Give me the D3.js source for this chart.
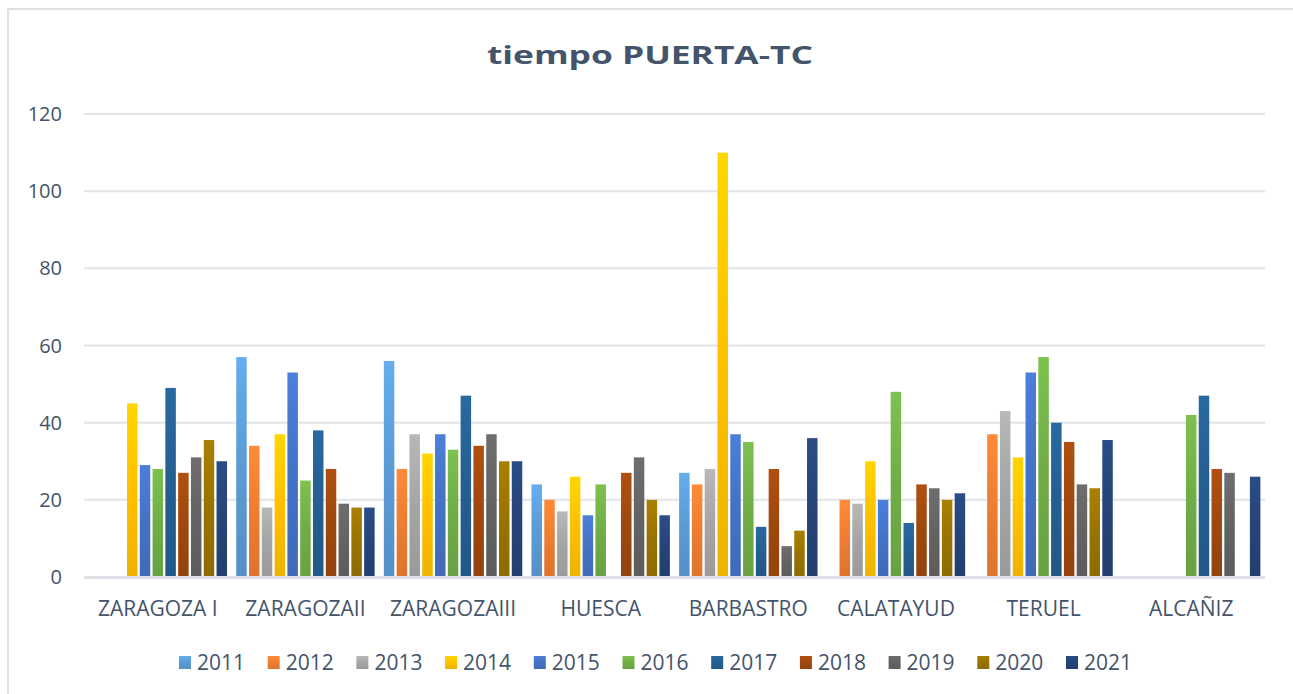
<!DOCTYPE html>
<html>
<head>
<meta charset="utf-8">
<script src="https://cdn.jsdelivr.net/npm/d3@7"></script>
<style>
  html, body { margin: 0; padding: 0; background: #ffffff; }
  svg { display: block; }
</style>
</head>
<body>
<svg id="chart" width="1293" height="694"></svg>
<script>
// ---- data ----
const categories = ["ZARAGOZA I", "ZARAGOZAII", "ZARAGOZAIII", "HUESCA", "BARBASTRO", "CALATAYUD", "TERUEL", "ALCAÑIZ"];
const years = ["2011", "2012", "2013", "2014", "2015", "2016", "2017", "2018", "2019", "2020", "2021"];
const s2011 = [null, 57, 56, 24, 27, null, null, null];
const s2012 = [null, 34, 28, 20, 24, 20, 37, null];
const s2013 = [null, 18, 37, 17, 28, 19, 43, null];
const s2014 = [45, 37, 32, 26, 110, 30, 31, null];
const s2015 = [29, 53, 37, 16, 37, 20, 53, null];
const s2016 = [28, 25, 33, 24, 35, 48, 57, 42];
const s2017 = [49, 38, 47, null, 13, 14, 40, 47];
const s2018 = [27, 28, 34, 27, 28, 24, 35, 28];
const s2019 = [31, 19, 37, 31, 8, 23, 24, 27];
const s2020 = [35.5, 18, 30, 20, 12, 20, 23, null];
const s2021 = [30, 18, 30, 16, 36, 21.7, 35.5, 26];
const yTicks = [0, 20, 40, 60, 80, 100, 120];
const colors = ["#5B9BD5", "#ED7D31", "#A5A5A5", "#FFC000", "#4472C4", "#70AD47", "#255E91", "#9E480E", "#636363", "#997300", "#264478"];
const titleText = "tiempo PUERTA-TC";

(function () {
const seriesValues = [s2011, s2012, s2013, s2014, s2015, s2016, s2017, s2018, s2019, s2020, s2021];
const rows = [];
categories.forEach((c, ci) => {
  years.forEach((yr, yi) => {
    const v = seriesValues[yi][ci];
    if (v != null) rows.push({ cat: c, year: yr, value: v, yi });
  });
});

// ---- layout ----
const svg = d3.select("#chart");
const textColor = "#44546A";
const font = "'Open Sans', 'Noto Sans', sans-serif";
const pLeft = 84, pRight = 1265, pTop = 114, pBottom = 577;

svg.append("rect").attr("width", 1293).attr("height", 694).attr("fill", "#ffffff");
svg.append("rect").attr("x", 8).attr("y", 9).attr("width", 1400).attr("height", 800)
  .attr("fill", "none").attr("stroke", "#dde1e6").attr("stroke-width", 2);

const x0 = d3.scaleBand().domain(categories).range([pLeft, pRight]).paddingInner(0).paddingOuter(0);
const x1 = d3.scaleBand().domain(years).range([0, x0.bandwidth()]).paddingInner(0.18).paddingOuter(0.36);
const y = d3.scaleLinear().domain([0, 120]).range([pBottom, pTop]);

const defs = svg.append("defs");
years.forEach((yr, i) => {
  const g = defs.append("linearGradient").attr("id", "g" + yr)
    .attr("x1", 0).attr("y1", 0).attr("x2", 0).attr("y2", 1);
  const c = d3.rgb(colors[i]);
  g.append("stop").attr("offset", "0%").attr("stop-color", c.brighter(0.3).formatHex());
  g.append("stop").attr("offset", "50%").attr("stop-color", c.formatHex());
  g.append("stop").attr("offset", "100%").attr("stop-color", c.darker(0.2).formatHex());
});

svg.append("g").selectAll("line").data(yTicks.filter(t => t > 0)).join("line")
  .attr("x1", pLeft).attr("x2", pRight)
  .attr("y1", d => y(d)).attr("y2", d => y(d))
  .attr("stroke", "#e0e4e9").attr("stroke-width", 2);

svg.append("g").selectAll("text").data(yTicks).join("text")
  .attr("x", 62).attr("y", d => y(d))
  .attr("dy", "0.35em")
  .attr("text-anchor", "end")
  .attr("font-family", font).attr("font-size", 20)
  .attr("fill", textColor)
  .text(d => d);

svg.append("g").selectAll("rect").data(rows).join("rect")
  .attr("x", d => x0(d.cat) + x1(d.year))
  .attr("width", x1.bandwidth())
  .attr("y", d => y(d.value))
  .attr("height", d => y(0) - y(d.value))
  .attr("fill", d => "url(#g" + d.year + ")");

svg.append("line").attr("x1", pLeft).attr("x2", pRight)
  .attr("y1", y(0) + 0.5).attr("y2", y(0) + 0.5)
  .attr("stroke", "#dde1e6").attr("stroke-width", 3);

svg.append("g").selectAll("text").data(categories).join("text")
  .attr("x", d => x0(d) + x0.bandwidth() / 2)
  .attr("y", 616)
  .attr("text-anchor", "middle")
  .attr("font-family", font).attr("font-size", 21)
  .attr("fill", textColor)
  .text(d => d);

const title = svg.append("text")
  .attr("x", 650).attr("y", 64)
  .attr("text-anchor", "middle")
  .attr("font-family", font).attr("font-size", 25).attr("font-weight", 700)
  .attr("fill", textColor)
  .text(titleText);
const tw = title.node().getComputedTextLength();
if (Math.abs(tw - 326) > 8) title.attr("textLength", 326).attr("lengthAdjust", "spacingAndGlyphs");

const legend = svg.append("g");
const item = legend.selectAll("g").data(years).join("g")
  .attr("transform", (d, i) => `translate(${179 + i * 88.7},656)`);
item.append("rect").attr("width", 12).attr("height", 13)
  .attr("fill", d => "url(#g" + d + ")");
item.append("text").attr("x", 18).attr("y", 14)
  .attr("font-family", font).attr("font-size", 21)
  .attr("fill", textColor)
  .text(d => d);
})();
</script>
</body>
</html>
